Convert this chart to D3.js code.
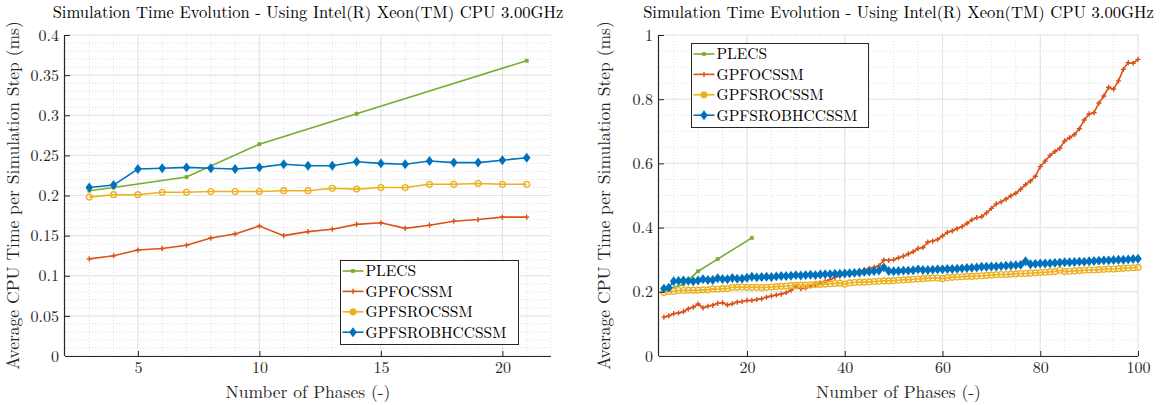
<!DOCTYPE html>
<html><head><meta charset="utf-8">
<script src="https://cdn.jsdelivr.net/npm/d3@7"></script>
<style>
html,body{margin:0;padding:0;background:#fff;}
svg{display:block;font-family:"Latin Modern Roman","Liberation Serif",serif;}
</style></head>
<body><svg id="c" width="1165" height="405"></svg>
<script>
// ---------- data ----------
const seriesNames = ["PLECS","GPFOCSSM","GPFSROCSSM","GPFSROBHCCSSM"];
const seriesColors = ["#77AC30","#D95319","#EDB120","#0072BD"];
const seriesMarkers = ["square","plus","circle","diamond"];

const plecsPhases = [3,4,7,10,14,21];
const plecsTime   = [0.206,0.210,0.223,0.264,0.302,0.368];

const phasesLeft = [3,4,5,6,7,8,9,10,11,12,13,14,15,16,17,18,19,20,21];
const gpfocLeft = [0.121,0.125,0.132,0.134,0.138,0.147,0.152,0.162,0.150,0.155,0.158,0.164,0.166,0.159,0.163,0.168,0.170,0.173,0.173];
const gpfsrocLeft = [0.198,0.201,0.201,0.204,0.204,0.205,0.205,0.205,0.206,0.206,0.209,0.208,0.210,0.210,0.214,0.214,0.215,0.214,0.214];
const gpfsrobhLeft = [0.210,0.213,0.233,0.234,0.235,0.234,0.233,0.235,0.239,0.237,0.237,0.242,0.240,0.239,0.243,0.241,0.241,0.244,0.247];

// extension of the three SSM series from 22 to 100 phases
const gpfocExt = [0.176,0.178,0.183,0.187,0.190,0.193,0.197,0.205,0.216,0.210,
  0.212,0.218,0.222,0.228,0.233,0.238,0.245,0.250,0.254,0.256,
  0.260,0.264,0.268,0.273,0.276,0.281,0.299,0.298,0.300,0.306,
  0.311,0.318,0.325,0.335,0.338,0.355,0.358,0.363,0.374,0.385,
  0.390,0.397,0.403,0.413,0.424,0.431,0.434,0.446,0.460,0.474,
  0.480,0.489,0.499,0.507,0.520,0.534,0.545,0.560,0.590,0.607,
  0.625,0.637,0.647,0.670,0.680,0.690,0.708,0.735,0.754,0.758,
  0.788,0.810,0.837,0.831,0.857,0.893,0.914,0.912,0.924];
const gpfsrocExt = [0.214,0.213,0.214,0.215,0.216,0.217,0.218,0.219,0.220,0.221,
  0.221,0.222,0.223,0.223,0.224,0.225,0.226,0.227,0.224,0.228,
  0.229,0.230,0.230,0.231,0.232,0.233,0.234,0.234,0.235,0.236,
  0.237,0.238,0.239,0.240,0.241,0.242,0.243,0.243,0.241,0.244,
  0.245,0.246,0.247,0.248,0.248,0.249,0.250,0.251,0.252,0.253,
  0.254,0.254,0.255,0.256,0.257,0.257,0.258,0.259,0.260,0.261,
  0.262,0.263,0.267,0.263,0.264,0.265,0.266,0.267,0.268,0.268,
  0.269,0.270,0.271,0.271,0.272,0.273,0.274,0.275,0.276];
const gpfsrobhExt = [0.245,0.246,0.247,0.246,0.248,0.249,0.249,0.250,0.252,0.251,
  0.252,0.253,0.252,0.254,0.255,0.255,0.256,0.256,0.257,0.258,
  0.259,0.260,0.262,0.263,0.265,0.266,0.276,0.265,0.264,0.265,
  0.266,0.266,0.267,0.270,0.268,0.268,0.269,0.270,0.270,0.271,
  0.271,0.272,0.273,0.274,0.275,0.276,0.278,0.278,0.279,0.279,
  0.280,0.281,0.282,0.283,0.284,0.295,0.286,0.287,0.288,0.288,
  0.289,0.290,0.291,0.292,0.292,0.293,0.294,0.294,0.295,0.296,
  0.297,0.298,0.298,0.299,0.300,0.300,0.301,0.302,0.303];
const phasesRight = d3.range(3, 101);

const titleText = "Simulation Time Evolution - Using Intel(R) Xeon(TM) CPU 3.00GHz";
const xLabelText = "Number of Phases (-)";
const yLabelText = "Average CPU Time per Simulation Step (ms)";

const xTicksLeft = [5,10,15,20];
const yTicksLeft = [0,0.05,0.1,0.15,0.2,0.25,0.3,0.35,0.4];
const xTicksRight = [20,40,60,80,100];
const yTicksRight = [0,0.2,0.4,0.6,0.8,1];

// ---------- drawing ----------
const FONT = '"Latin Modern Roman","Liberation Serif",serif';
const svg = d3.select("#c");

function build(xs, ys){ return xs.map((x,i)=>({x:x, y:ys[i]})); }

function markerPath(type){
  if(type==="square") return "M-1.6,-1.6H1.6V1.6H-1.6Z";
  if(type==="diamond") return "M0,-3.8L2.9,0L0,3.8L-2.9,0Z";
  if(type==="plus") return "M-2.6,0H2.6M0,-2.6V2.6";
  return d3.symbol(d3.symbolCircle, 26)();
}

function panel(cfg){
  const g = svg.append("g");
  const x = d3.scaleLinear().domain(cfg.xDomain).range(cfg.xRange);
  const y = d3.scaleLinear().domain(cfg.yDomain).range([356,35]);
  const [x0,x1] = cfg.xRange;

  // minor grid
  const grid = g.append("g");
  grid.selectAll(".mx").data(cfg.xMinor).join("line")
    .attr("x1",d=>x(d)).attr("x2",d=>x(d)).attr("y1",35).attr("y2",356)
    .attr("stroke","#d8d8d8").attr("stroke-width",0.8).attr("stroke-dasharray","1,2");
  grid.selectAll(".my").data(cfg.yMinor).join("line")
    .attr("x1",x0).attr("x2",x1).attr("y1",d=>y(d)).attr("y2",d=>y(d))
    .attr("stroke","#d8d8d8").attr("stroke-width",0.8).attr("stroke-dasharray","1,2");
  // major grid
  grid.selectAll(".Mx").data(cfg.xTicks).join("line")
    .attr("x1",d=>x(d)).attr("x2",d=>x(d)).attr("y1",35).attr("y2",356)
    .attr("stroke","#e3e3e3").attr("stroke-width",1);
  grid.selectAll(".My").data(cfg.yTicks).join("line")
    .attr("x1",x0).attr("x2",x1).attr("y1",d=>y(d)).attr("y2",d=>y(d))
    .attr("stroke","#e3e3e3").attr("stroke-width",1);

  // series
  cfg.series.forEach((s,i)=>{
    const pts = s.data;
    g.append("path").datum(pts)
      .attr("d", d3.line().x(d=>x(d.x)).y(d=>y(d.y)))
      .attr("fill","none").attr("stroke",seriesColors[i]).attr("stroke-width",1.6);
    const m = seriesMarkers[i];
    g.selectAll(null).data(pts).join("path")
      .attr("transform",d=>`translate(${x(d.x)},${y(d.y)})`)
      .attr("d", markerPath(m))
      .attr("fill", (m==="circle"||m==="plus")?"none":seriesColors[i])
      .attr("stroke", seriesColors[i]).attr("stroke-width", m==="square"?0.6:1.4);
  });

  // axes
  const ax = g.append("g").attr("transform","translate(0,356)")
    .call(d3.axisBottom(x).tickValues(cfg.xTicks).tickSize(-5).tickSizeOuter(0).tickPadding(6).tickFormat(d3.format("~g")));
  const ay = g.append("g").attr("transform",`translate(${x0},0)`)
    .call(d3.axisLeft(y).tickValues(cfg.yTicks).tickSize(-5).tickSizeOuter(0).tickPadding(6).tickFormat(d3.format("~g")));
  [ax,ay].forEach(a=>{
    a.attr("font-family",FONT).attr("font-size",16);
    a.select(".domain").attr("stroke","#262626").attr("stroke-width",1.2);
    a.selectAll(".tick line").attr("stroke","#262626");
    a.selectAll(".tick text").attr("fill","#262626");
  });
  ax.select(".domain").attr("d",`M${x0},0.5H${x1}`);
  ay.select(".domain").attr("d",`M-0.5,356V35`);

  // labels
  g.append("text").attr("x",(x0+x1)/2).attr("y",18).attr("text-anchor","middle")
    .style("font-family",FONT).style("font-size","16.6px").attr("fill","#000").text(titleText);
  g.append("text").attr("x",(x0+x1)/2).attr("y",398).attr("text-anchor","middle")
    .style("font-family",FONT).style("font-size","17.5px").attr("fill","#262626").text(xLabelText);
  g.append("text").attr("transform",`translate(${cfg.yLabelX},${(35+356)/2}) rotate(-90)`)
    .attr("text-anchor","middle").style("font-family",FONT).style("font-size","17.5px").attr("fill","#262626").text(yLabelText);

  // legend
  const L = cfg.legend;
  const lg = g.append("g");
  lg.append("rect").attr("x",L.x).attr("y",L.y).attr("width",L.w).attr("height",L.h)
    .attr("fill","#fff").attr("stroke","#262626").attr("stroke-width",1);
  seriesNames.forEach((n,i)=>{
    const cy = L.y + L.first + i*L.step;
    lg.append("line").attr("x1",L.x+2).attr("x2",L.x+23).attr("y1",cy).attr("y2",cy)
      .attr("stroke",seriesColors[i]).attr("stroke-width",1.6);
    const m = seriesMarkers[i];
    lg.append("path").attr("transform",`translate(${L.x+12.5},${cy})`)
      .attr("d", markerPath(m))
      .attr("fill", m==="plus"?"none":seriesColors[i])
      .attr("stroke",seriesColors[i]).attr("stroke-width", m==="square"?0.6:1.4);
    lg.append("text").attr("x",L.x+25).attr("y",cy+5.3)
      .style("font-family",FONT).style("font-size","15.5px").attr("fill","#000").text(n);
  });
}

panel({
  xDomain:[2,22], xRange:[65,551], yDomain:[0,0.4],
  xTicks:xTicksLeft, yTicks:yTicksLeft,
  xMinor:d3.range(2,23), yMinor:d3.range(0,41).map(d=>d/100),
  yLabelX:19,
  series:[
    {data:build(plecsPhases,plecsTime)},
    {data:build(phasesLeft,gpfocLeft)},
    {data:build(phasesLeft,gpfsrocLeft)},
    {data:build(phasesLeft,gpfsrobhLeft)}
  ],
  legend:{x:340.5,y:260.5,w:178,h:84,first:10.5,step:20.4}
});

panel({
  xDomain:[2,100], xRange:[659,1138], yDomain:[0,1],
  xTicks:xTicksRight, yTicks:yTicksRight,
  xMinor:d3.range(5,101,5), yMinor:d3.range(0,21).map(d=>d/20),
  yLabelX:610,
  series:[
    {data:build(plecsPhases,plecsTime)},
    {data:build(phasesRight,gpfocLeft.concat(gpfocExt))},
    {data:build(phasesRight,gpfsrocLeft.concat(gpfsrocExt))},
    {data:build(phasesRight,gpfsrobhLeft.concat(gpfsrobhExt))}
  ],
  legend:{x:691.5,y:43.5,w:177,h:84,first:10.5,step:20.4}
});
</script></body></html>
